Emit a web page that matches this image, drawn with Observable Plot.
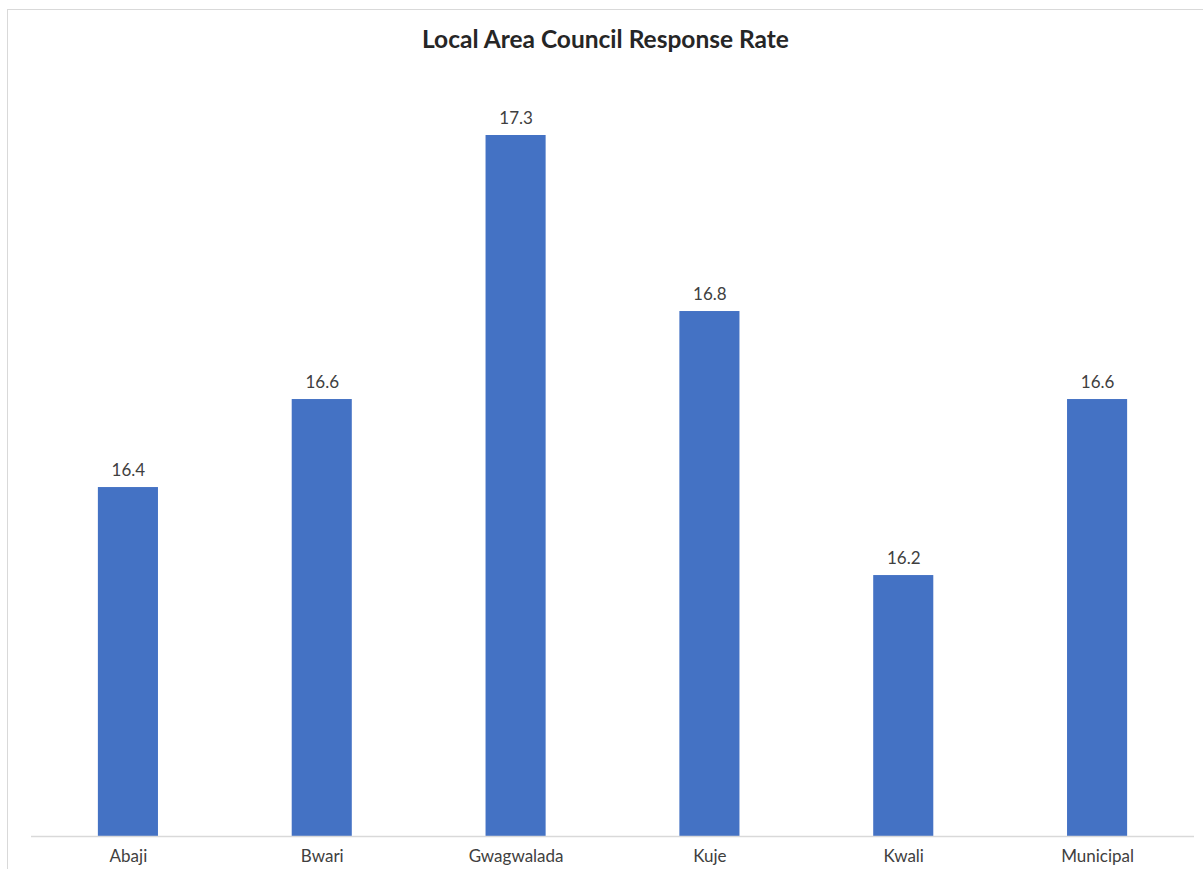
<!DOCTYPE html>
<html>
<head>
<meta charset="utf-8">
<script src="https://cdn.jsdelivr.net/npm/d3@7"></script>
<script src="https://cdn.jsdelivr.net/npm/@observablehq/plot@0.6"></script>
<style>
  html, body { margin: 0; padding: 0; background: #fff; overflow: hidden; }
  body { width: 1203px; height: 869px; position: relative; font-family: Lato, "Open Sans", sans-serif; }
  #frame { position: absolute; left: 7px; top: 9px; width: 1260px; height: 920px; border: 1px solid #d9d9d9; box-sizing: border-box; pointer-events: none; }
  #title { height: 60px; line-height: 77px; text-align: center; font-weight: bold; font-size: 24.5px; color: #262626; padding-left: 8px; white-space: nowrap; }
  #chart svg { display: block; }
</style>
</head>
<body>
<div id="frame"></div>
<div id="title">Local Area Council Response Rate</div>
<div id="chart"></div>
<script>
const councils = ["Abaji", "Bwari", "Gwagwalada", "Kuje", "Kwali", "Municipal"];
const rates = [16.4, 16.6, 17.2, 16.8, 16.2, 16.6];
const rateLabels = ["16.4", "16.6", "17.3", "16.8", "16.2", "16.6"];
const yMin = 15.607;
const yMax = 17.3;

const data = councils.map((c, i) => ({council: c, rate: rates[i], label: rateLabels[i]}));

const chart = Plot.plot({
  width: 1203,
  height: 809,
  marginLeft: 31,
  marginRight: 9,
  marginTop: 31,
  marginBottom: 33,
  style: {fontFamily: "Lato, 'Open Sans', sans-serif", background: "transparent"},
  x: {domain: councils, paddingInner: 0.69, paddingOuter: 0.345, round: false, label: null},
  y: {domain: [yMin, yMax], axis: null},
  marks: [
    Plot.barY(data, {x: "council", y1: yMin, y2: "rate", fill: "#4472C4"}),
    Plot.ruleY([yMin], {stroke: "#d9d9d9", strokeWidth: 1.5}),
    Plot.text(data, {x: "council", y: "rate", text: "label", dy: -17, fontSize: 17, fill: "#404040"}),
    Plot.axisX({tickSize: 0, tickPadding: 13, fontSize: 17, color: "#404040", label: null})
  ]
});
document.getElementById("chart").appendChild(chart);
</script>
</body>
</html>
